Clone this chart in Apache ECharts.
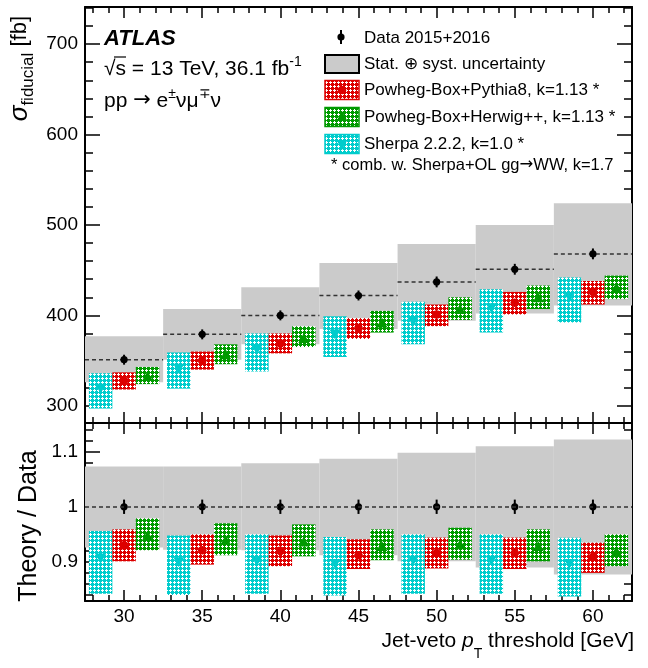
<!DOCTYPE html>
<html>
<head>
<meta charset="utf-8">
<title>WW fiducial cross section vs jet-veto threshold</title>
<script src="https://cdn.jsdelivr.net/npm/echarts@6/dist/echarts.min.js"></script>
<style>
html, body { margin: 0; padding: 0; background: #fff; }
#chart { width: 648px; height: 668px; }
</style>
</head>
<body>
<div id="chart"></div>
<script>
// jet-veto pT thresholds [GeV]
var thresholds = [30, 35, 40, 45, 50, 55, 60];

// measured fiducial cross section [fb]
var dataXsec = [351, 379, 400, 422, 437, 451, 468];
var dataStatErr = [5.5, 5.5, 5.5, 5.5, 6, 6, 6];
var totalUncHi = [377, 407, 431, 458, 479, 500, 524];
var totalUncLo = [326, 351, 368, 385, 394, 402, 411];

// predictions [fb]: central, low, high
var pythiaXsec = [328, 350, 369, 386, 401, 414, 426];
var pythiaLo = [318, 340, 358, 374, 388, 401, 412];
var pythiaHi = [337, 360, 380, 397, 412, 426, 438];
var herwigXsec = [332, 356, 374, 391, 406, 419, 430];
var herwigLo = [324, 346, 365, 381, 395, 407, 418];
var herwigHi = [343, 368, 388, 405, 420, 433, 444];
var sherpaXsec = [320, 342, 363, 380, 394, 409, 421];
var sherpaLo = [297, 319, 338, 354, 368, 381, 392];
var sherpaHi = [336, 359, 380, 399, 415, 429, 442];

// ratio panel (theory / data)
var dataRatioErr = [0.013, 0.013, 0.013, 0.013, 0.013, 0.013, 0.013];
var ratioUncHi = [1.073, 1.073, 1.079, 1.087, 1.098, 1.110, 1.122];
var ratioUncLo = [0.926, 0.922, 0.921, 0.912, 0.901, 0.890, 0.877];
var pythiaRatio = [0.930, 0.921, 0.920, 0.912, 0.916, 0.916, 0.909];
var pythiaRatioLo = [0.901, 0.895, 0.892, 0.887, 0.888, 0.887, 0.880];
var pythiaRatioHi = [0.959, 0.950, 0.948, 0.941, 0.944, 0.944, 0.935];
var herwigRatio = [0.946, 0.938, 0.935, 0.927, 0.930, 0.927, 0.918];
var herwigRatioLo = [0.921, 0.912, 0.910, 0.903, 0.904, 0.901, 0.892];
var herwigRatioHi = [0.979, 0.970, 0.968, 0.959, 0.962, 0.959, 0.950];
var sherpaRatio = [0.908, 0.901, 0.903, 0.898, 0.904, 0.904, 0.898];
var sherpaRatioLo = [0.842, 0.840, 0.842, 0.839, 0.842, 0.842, 0.837];
var sherpaRatioHi = [0.956, 0.948, 0.950, 0.945, 0.950, 0.950, 0.944];

// tick labels
var xTickLabels = [30, 35, 40, 45, 50, 55, 60];
var yTickLabelsTop = [300, 400, 500, 600, 700];
var yTickLabelsRatio = [0.9, 1, 1.1];

var FONT = '"Liberation Sans", Arial, Helvetica, sans-serif';
var RED = '#dd0000', GREEN = '#009a00', CYAN = '#00cccc', BAND = '#cbcbcb';
var HALF_BIN = 2.5, HALF_BOX = 0.75;

function range(a, b, step) {
    var out = [];
    for (var v = a; v <= b + step / 2; v += step) out.push(+v.toFixed(4));
    return out;
}
var xMinor = range(28, 62, 1);
var yMinorTop = range(300, 740, 20);
var yMinorRatio = range(0.84, 1.14, 0.02);

// cross-hatch fill like ROOT style 3144
function hatch(color) {
    var c = document.createElement('canvas');
    c.width = 4; c.height = 4;
    var g = c.getContext('2d');
    g.fillStyle = color;
    g.fillRect(0, 0, 4, 4);
    g.fillStyle = '#ffffff';
    g.fillRect(2, 1, 1, 3);
    g.fillRect(1, 2, 3, 1);
    return { image: c, repeat: 'repeat' };
}

function markerShape(kind, cx, cy, color) {
    if (kind === 'circle') return { type: 'circle', shape: { cx: cx, cy: cy, r: 4.3 }, style: { fill: color } };
    if (kind === 'up') return { type: 'polygon', shape: { points: [[cx, cy - 6], [cx - 5.5, cy + 4], [cx + 5.5, cy + 4]] }, style: { fill: color } };
    return { type: 'polygon', shape: { points: [[cx - 5.5, cy - 4], [cx + 5.5, cy - 4], [cx, cy + 6]] }, style: { fill: color } };
}

function xAxisCfg(grid, pos, ticks, len, withLine, labels) {
    return {
        type: 'value', gridIndex: grid, position: pos, min: 27.5, max: 62.5,
        axisLine: { show: withLine, onZero: false, lineStyle: { color: '#000', width: 2 } },
        axisTick: { show: true, inside: true, length: len, customValues: ticks, lineStyle: { color: '#000', width: 1.5 } },
        axisLabel: labels ? { show: true, customValues: labels, margin: 6, fontSize: 19, color: '#000', fontFamily: FONT } : { show: false },
        splitLine: { show: false }
    };
}

function yAxisCfg(grid, pos, min, max, ticks, len, withLine, labels) {
    return {
        type: 'value', gridIndex: grid, position: pos, min: min, max: max,
        axisLine: { show: withLine, onZero: false, lineStyle: { color: '#000', width: 2 } },
        axisTick: { show: true, inside: true, length: len, customValues: ticks, lineStyle: { color: '#000', width: 1.5 } },
        axisLabel: labels ? { show: true, customValues: labels, margin: 7, fontSize: 19, color: '#000', fontFamily: FONT } : { show: false },
        splitLine: { show: false }
    };
}

// gray stat+syst band, one box per bin
function bandSeries(xi, yi, lo, hi, extra) {
    var s = {
        type: 'custom', xAxisIndex: xi, yAxisIndex: yi, silent: true,
        data: thresholds.map(function (x, i) { return [x, lo[i], hi[i]]; }),
        renderItem: function (params, api) {
            var p1 = api.coord([api.value(0) - HALF_BIN, api.value(2)]);
            var p2 = api.coord([api.value(0) + HALF_BIN, api.value(1)]);
            return { type: 'rect', shape: { x: p1[0], y: p1[1], width: p2[0] - p1[0], height: p2[1] - p1[1] }, style: { fill: BAND } };
        }
    };
    if (extra) s.markLine = extra;
    return s;
}

// dashed line across each bin at the measured value
function dashSeries(xi, yi, vals) {
    return {
        type: 'custom', xAxisIndex: xi, yAxisIndex: yi, silent: true,
        data: thresholds.map(function (x, i) { return [x, vals[i]]; }),
        renderItem: function (params, api) {
            var a = api.coord([api.value(0) - HALF_BIN, api.value(1)]);
            var b = api.coord([api.value(0) + HALF_BIN, api.value(1)]);
            return { type: 'line', shape: { x1: a[0], y1: a[1], x2: b[0], y2: b[1] }, style: { stroke: '#333', lineWidth: 1.5, lineDash: [4, 3] } };
        }
    };
}

function modelSeries(xi, yi, vals, lo, hi, off, color, kind) {
    var fill = hatch(color);
    return {
        type: 'custom', xAxisIndex: xi, yAxisIndex: yi, silent: true,
        data: thresholds.map(function (x, i) { return [x, vals[i], lo[i], hi[i]]; }),
        renderItem: function (params, api) {
            var x = api.value(0) + off;
            var p1 = api.coord([x - HALF_BOX, api.value(3)]);
            var p2 = api.coord([x + HALF_BOX, api.value(2)]);
            var c = api.coord([x, api.value(1)]);
            return {
                type: 'group', children: [
                    { type: 'rect', shape: { x: p1[0], y: p1[1], width: p2[0] - p1[0], height: p2[1] - p1[1] }, style: { fill: fill } },
                    markerShape(kind, c[0], c[1], color)
                ]
            };
        }
    };
}

function dataSeries(xi, yi, vals, errs) {
    return {
        type: 'custom', xAxisIndex: xi, yAxisIndex: yi, silent: true,
        data: thresholds.map(function (x, i) { return [x, vals[i], errs[i]]; }),
        renderItem: function (params, api) {
            var x = api.value(0), v = api.value(1), e = api.value(2);
            var c = api.coord([x, v]), t = api.coord([x, v + e]), b = api.coord([x, v - e]);
            return {
                type: 'group', children: [
                    { type: 'line', shape: { x1: c[0], y1: t[1], x2: c[0], y2: b[1] }, style: { stroke: '#000', lineWidth: 2 } },
                    { type: 'circle', shape: { cx: c[0], cy: c[1], r: 3.6 }, style: { fill: '#000' } }
                ]
            };
        }
    };
}

var ones = thresholds.map(function () { return 1; });

var legendRows = [
    { y: 64, text: 'Stat. \u2295 syst. uncertainty' },
    { y: 90, text: 'Powheg-Box+Pythia8, k=1.13 *', color: RED, kind: 'circle' },
    { y: 117, text: 'Powheg-Box+Herwig++, k=1.13 *', color: GREEN, kind: 'up' },
    { y: 144, text: 'Sherpa 2.2.2, k=1.0 *', color: CYAN, kind: 'down' }
];

var graphics = [
    { type: 'text', x: 104, y: 39, style: { text: 'ATLAS', font: 'italic bold 22px ' + FONT, fill: '#000', verticalAlign: 'middle' } },
    {
        type: 'text', x: 104, y: 69, style: {
            text: '\u221As = 13 TeV, 36.1 fb{sup|-1}', font: '21px ' + FONT, fill: '#000', verticalAlign: 'middle',
            rich: { sup: { fontSize: 14, fontFamily: FONT, padding: [0, 0, 14, 0] } }
        }
    },
    { type: 'line', shape: { x1: 114, y1: 57, x2: 126, y2: 57 }, style: { stroke: '#000', lineWidth: 1.2 } },
    {
        type: 'text', x: 104, y: 101, style: {
            text: 'pp {a|\u2192} e{sup|\u00B1}\u03BD\u03BC{sup|\u2213}\u03BD', font: '21px ' + FONT, fill: '#000', verticalAlign: 'middle',
            rich: {
                a: { fontSize: 21, fontFamily: '"DejaVu Sans"' },
                sup: { fontSize: 14, fontFamily: FONT, padding: [0, 0, 14, 0] }
            }
        }
    },
    // legend: data
    { type: 'line', shape: { x1: 341, y1: 30, x2: 341, y2: 44 }, style: { stroke: '#000', lineWidth: 2 } },
    { type: 'circle', shape: { cx: 341, cy: 37, r: 3.6 }, style: { fill: '#000' } },
    { type: 'text', x: 364, y: 38, style: { text: 'Data 2015+2016', font: '17px ' + FONT, fill: '#000', verticalAlign: 'middle' } },
    {
        type: 'text', x: 331, y: 165, style: {
            text: '* comb. w. Sherpa+OL gg{a|\u2192}WW, k=1.7', font: '16.5px ' + FONT, fill: '#000', verticalAlign: 'middle',
            rich: { a: { fontSize: 16.5, fontFamily: '"DejaVu Sans"' } }
        }
    },
    // axis titles
    {
        type: 'text', x: 20, y: 16, rotation: Math.PI / 2, style: {
            text: '{s|\u03C3}{sub|fiducial}{b| [fb]}', align: 'right', verticalAlign: 'middle', fill: '#000',
            rich: {
                s: { fontSize: 26, fontStyle: 'italic', fontFamily: FONT },
                sub: { fontSize: 17, fontFamily: FONT, padding: [17, 0, 0, 0] },
                b: { fontSize: 22, fontFamily: FONT }
            }
        }
    },
    { type: 'text', x: 29, y: 526, rotation: Math.PI / 2, style: { text: 'Theory / Data', font: '25px ' + FONT, fill: '#000', align: 'center', verticalAlign: 'middle' } },
    {
        type: 'text', x: 634, y: 641, style: {
            text: 'Jet-veto {i|p}{sub|T} threshold [GeV]', font: '21px ' + FONT, fill: '#000', align: 'right', verticalAlign: 'middle',
            rich: {
                i: { fontSize: 21, fontStyle: 'italic', fontFamily: FONT },
                sub: { fontSize: 14, fontFamily: FONT, padding: [26, 0, 0, 0] }
            }
        }
    }
];

legendRows.forEach(function (r) {
    if (r.color) {
        graphics.push({ type: 'rect', shape: { x: 325, y: r.y - 9.5, width: 34, height: 19 }, style: { fill: hatch(r.color), stroke: r.color, lineWidth: 1.5 } });
        graphics.push(markerShape(r.kind, 342, r.y, r.color));
    } else {
        graphics.push({ type: 'rect', shape: { x: 325, y: r.y - 9, width: 34, height: 18 }, style: { fill: BAND, stroke: '#000', lineWidth: 2 } });
    }
    graphics.push({ type: 'text', x: 364, y: r.y, style: { text: r.text, font: '17px ' + FONT, fill: '#000', verticalAlign: 'middle' } });
});

var chart = echarts.init(document.getElementById('chart'), null, { renderer: 'canvas' });

var option = {
    animation: false,
    backgroundColor: '#fff',
    grid: [
        { left: 85, right: 16, top: 7, height: 416, outerBoundsMode: 'none' },
        { left: 85, right: 16, top: 423, height: 178, outerBoundsMode: 'none' }
    ],
    xAxis: [
        xAxisCfg(0, 'bottom', xTickLabels, 11, true, null),
        xAxisCfg(0, 'bottom', xMinor, 6, false, null),
        xAxisCfg(0, 'top', xTickLabels, 11, true, null),
        xAxisCfg(0, 'top', xMinor, 6, false, null),
        xAxisCfg(1, 'bottom', xTickLabels, 11, true, xTickLabels),
        xAxisCfg(1, 'bottom', xMinor, 6, false, null),
        xAxisCfg(1, 'top', xTickLabels, 11, true, null),
        xAxisCfg(1, 'top', xMinor, 6, false, null)
    ],
    yAxis: [
        yAxisCfg(0, 'left', 281, 741, yTickLabelsTop, 15, true, yTickLabelsTop),
        yAxisCfg(0, 'left', 281, 741, yMinorTop, 8, false, null),
        yAxisCfg(0, 'right', 281, 741, yTickLabelsTop, 15, true, null),
        yAxisCfg(0, 'right', 281, 741, yMinorTop, 8, false, null),
        yAxisCfg(1, 'left', 0.829, 1.152, yTickLabelsRatio, 15, true, yTickLabelsRatio),
        yAxisCfg(1, 'left', 0.829, 1.152, yMinorRatio, 8, false, null),
        yAxisCfg(1, 'right', 0.829, 1.152, yTickLabelsRatio, 15, true, null),
        yAxisCfg(1, 'right', 0.829, 1.152, yMinorRatio, 8, false, null)
    ],
    series: [
        // top panel
        bandSeries(0, 0, totalUncLo, totalUncHi),
        dashSeries(0, 0, dataXsec),
        modelSeries(0, 0, sherpaXsec, sherpaLo, sherpaHi, -1.5, CYAN, 'down'),
        modelSeries(0, 0, pythiaXsec, pythiaLo, pythiaHi, 0, RED, 'circle'),
        modelSeries(0, 0, herwigXsec, herwigLo, herwigHi, 1.5, GREEN, 'up'),
        dataSeries(0, 0, dataXsec, dataStatErr),
        // ratio panel
        bandSeries(4, 4, ratioUncLo, ratioUncHi, {
            silent: true, symbol: 'none', label: { show: false },
            lineStyle: { type: [4, 3], color: '#333', width: 1.5 },
            data: [{ yAxis: 1 }]
        }),
        modelSeries(4, 4, sherpaRatio, sherpaRatioLo, sherpaRatioHi, -1.5, CYAN, 'down'),
        modelSeries(4, 4, pythiaRatio, pythiaRatioLo, pythiaRatioHi, 0, RED, 'circle'),
        modelSeries(4, 4, herwigRatio, herwigRatioLo, herwigRatioHi, 1.5, GREEN, 'up'),
        dataSeries(4, 4, ones, dataRatioErr)
    ],
    graphic: { elements: graphics }
};

chart.setOption(option);
</script>
</body>
</html>
